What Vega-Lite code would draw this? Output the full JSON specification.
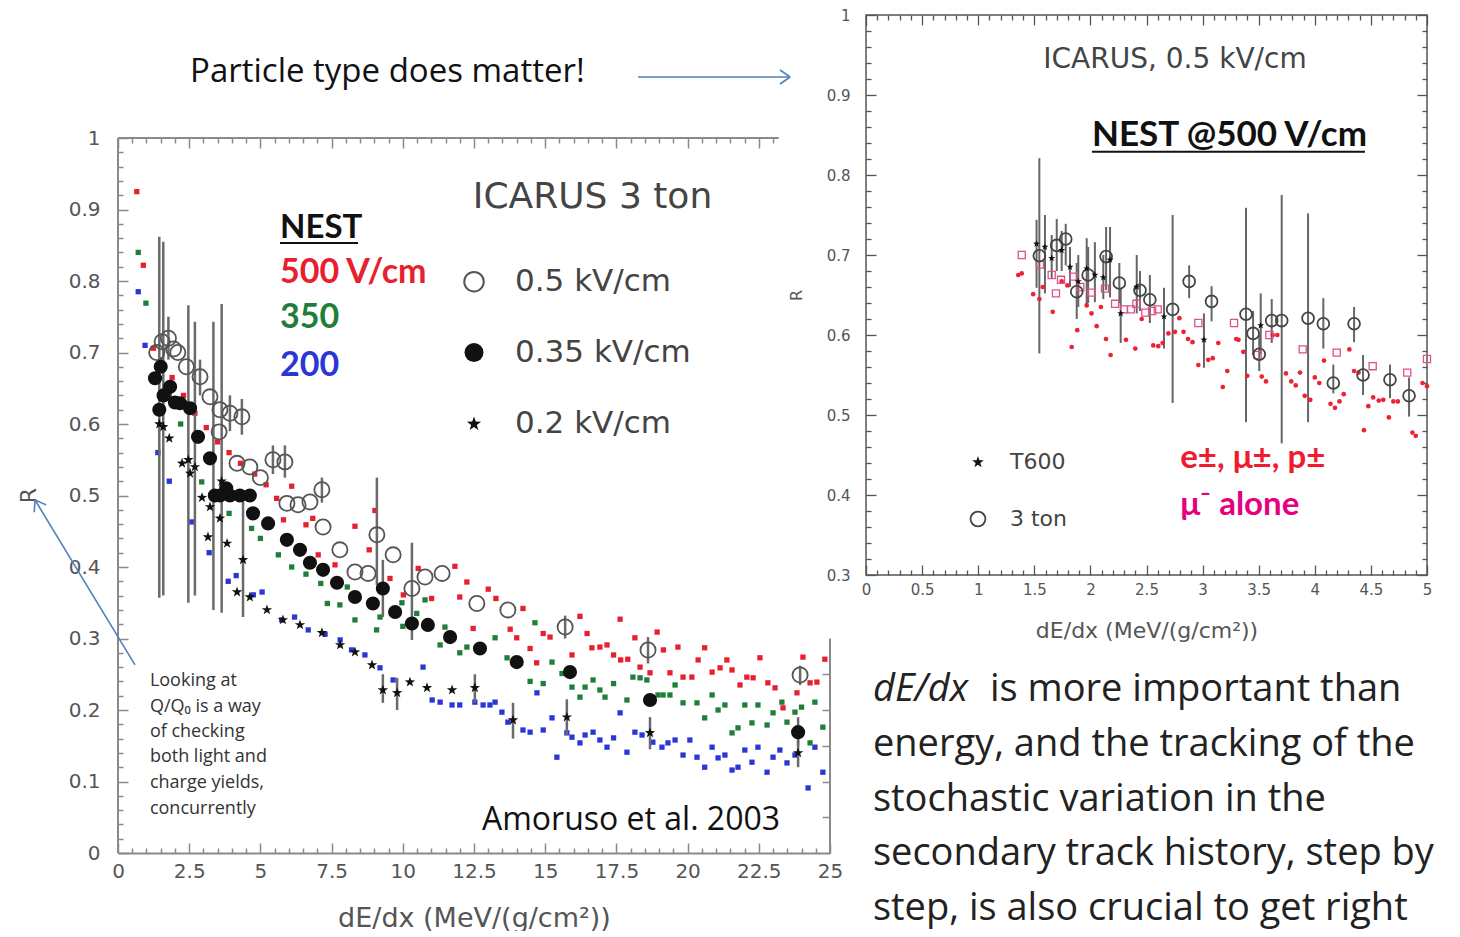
{
 "$schema": "https://vega.github.io/schema/vega-lite/v6.json",
 "background": "white",
 "padding": {"left": 17, "top": 7, "right": 0, "bottom": 0},
 "config": {"view": {"stroke": null}, "axis": {"grid": false}},
 "datasets": {
  "nestL": [
   {"s":"500","x":0.66,"y":0.925},{"s":"500","x":0.89,"y":0.822},{"s":"500","x":1.24,"y":0.706},{"s":"500","x":1.5,"y":0.69},{"s":"500","x":1.9,"y":0.665},{"s":"500","x":2.3,"y":0.64},{"s":"500","x":2.7,"y":0.615},{"s":"500","x":3.1,"y":0.595},{"s":"500","x":3.5,"y":0.575},{"s":"500","x":3.9,"y":0.56},{"s":"500","x":4.3,"y":0.545},{"s":"500","x":4.8,"y":0.53},{"s":"500","x":5.2,"y":0.515},{"s":"500","x":5.57,"y":0.496},{"s":"500","x":5.81,"y":0.466},{"s":"500","x":6.1,"y":0.513},{"s":"500","x":6.6,"y":0.459},{"s":"500","x":6.84,"y":0.468},{"s":"500","x":7.03,"y":0.417},{"s":"500","x":7.62,"y":0.403},{"s":"500","x":8.32,"y":0.457},{"s":"500","x":8.82,"y":0.424},{"s":"500","x":9.02,"y":0.479},{"s":"500","x":9.55,"y":0.384},{"s":"500","x":10.02,"y":0.361},{"s":"500","x":10.54,"y":0.398},{"s":"500","x":11.01,"y":0.356},{"s":"500","x":11.83,"y":0.401},{"s":"500","x":12.0,"y":0.358},{"s":"500","x":12.25,"y":0.379},{"s":"500","x":12.47,"y":0.314},{"s":"500","x":13.0,"y":0.369},{"s":"500","x":13.27,"y":0.356},{"s":"500","x":13.77,"y":0.313},{"s":"500","x":14.0,"y":0.301},{"s":"500","x":14.22,"y":0.342},{"s":"500","x":14.47,"y":0.286},{"s":"500","x":14.7,"y":0.266},{"s":"500","x":14.93,"y":0.307},{"s":"500","x":15.17,"y":0.302},{"s":"500","x":15.94,"y":0.277},{"s":"500","x":16.22,"y":0.331},{"s":"500","x":16.47,"y":0.307},{"s":"500","x":16.64,"y":0.287},{"s":"500","x":16.92,"y":0.288},{"s":"500","x":17.17,"y":0.291},{"s":"500","x":17.4,"y":0.277},{"s":"500","x":17.63,"y":0.327},{"s":"500","x":17.65,"y":0.27},{"s":"500","x":17.9,"y":0.271},{"s":"500","x":18.15,"y":0.301},{"s":"500","x":18.33,"y":0.26},{"s":"500","x":18.68,"y":0.252},{"s":"500","x":18.93,"y":0.309},{"s":"500","x":19.15,"y":0.284},{"s":"500","x":19.38,"y":0.252},{"s":"500","x":19.66,"y":0.288},{"s":"500","x":19.84,"y":0.246},{"s":"500","x":20.15,"y":0.246},{"s":"500","x":20.37,"y":0.27},{"s":"500","x":20.6,"y":0.287},{"s":"500","x":20.86,"y":0.253},{"s":"500","x":21.14,"y":0.259},{"s":"500","x":21.38,"y":0.27},{"s":"500","x":21.56,"y":0.256},{"s":"500","x":21.84,"y":0.235},{"s":"500","x":22.08,"y":0.246},{"s":"500","x":22.3,"y":0.245},{"s":"500","x":22.54,"y":0.273},{"s":"500","x":22.82,"y":0.238},{"s":"500","x":23.07,"y":0.231},{"s":"500","x":23.35,"y":0.203},{"s":"500","x":23.84,"y":0.224},{"s":"500","x":24.05,"y":0.274},{"s":"500","x":24.3,"y":0.238},{"s":"500","x":24.54,"y":0.239},{"s":"500","x":24.82,"y":0.271},
   {"s":"350","x":0.71,"y":0.84},{"s":"350","x":0.98,"y":0.769},{"s":"350","x":1.4,"y":0.68},{"s":"350","x":1.8,"y":0.64},{"s":"350","x":2.2,"y":0.6},{"s":"350","x":2.94,"y":0.519},{"s":"350","x":3.3,"y":0.5},{"s":"350","x":3.9,"y":0.475},{"s":"350","x":4.69,"y":0.454},{"s":"350","x":5.0,"y":0.44},{"s":"350","x":5.63,"y":0.417},{"s":"350","x":6.1,"y":0.4},{"s":"350","x":6.6,"y":0.39},{"s":"350","x":7.12,"y":0.377},{"s":"350","x":7.35,"y":0.349},{"s":"350","x":7.79,"y":0.347},{"s":"350","x":8.05,"y":0.372},{"s":"350","x":8.32,"y":0.326},{"s":"350","x":9.08,"y":0.312},{"s":"350","x":9.2,"y":0.33},{"s":"350","x":9.97,"y":0.35},{"s":"350","x":10.0,"y":0.317},{"s":"350","x":10.49,"y":0.335},{"s":"350","x":10.78,"y":0.354},{"s":"350","x":11.31,"y":0.291},{"s":"350","x":11.48,"y":0.316},{"s":"350","x":12.0,"y":0.28},{"s":"350","x":12.25,"y":0.288},{"s":"350","x":13.24,"y":0.301},{"s":"350","x":13.66,"y":0.273},{"s":"350","x":14.47,"y":0.24},{"s":"350","x":14.64,"y":0.322},{"s":"350","x":14.93,"y":0.237},{"s":"350","x":15.24,"y":0.267},{"s":"350","x":15.59,"y":0.251},{"s":"350","x":15.94,"y":0.232},{"s":"350","x":16.22,"y":0.218},{"s":"350","x":16.4,"y":0.232},{"s":"350","x":16.68,"y":0.242},{"s":"350","x":16.92,"y":0.228},{"s":"350","x":17.1,"y":0.218},{"s":"350","x":17.4,"y":0.237},{"s":"350","x":17.87,"y":0.214},{"s":"350","x":18.08,"y":0.246},{"s":"350","x":18.33,"y":0.245},{"s":"350","x":18.57,"y":0.242},{"s":"350","x":18.96,"y":0.221},{"s":"350","x":19.14,"y":0.221},{"s":"350","x":19.38,"y":0.221},{"s":"350","x":19.56,"y":0.235},{"s":"350","x":19.84,"y":0.21},{"s":"350","x":20.33,"y":0.21},{"s":"350","x":20.6,"y":0.189},{"s":"350","x":20.86,"y":0.221},{"s":"350","x":21.07,"y":0.2},{"s":"350","x":21.31,"y":0.207},{"s":"350","x":21.56,"y":0.168},{"s":"350","x":21.77,"y":0.175},{"s":"350","x":22.01,"y":0.207},{"s":"350","x":22.26,"y":0.182},{"s":"350","x":22.47,"y":0.207},{"s":"350","x":22.79,"y":0.179},{"s":"350","x":23.0,"y":0.196},{"s":"350","x":23.31,"y":0.211},{"s":"350","x":23.49,"y":0.183},{"s":"350","x":23.77,"y":0.197},{"s":"350","x":24.0,"y":0.204},{"s":"350","x":24.3,"y":0.154},{"s":"350","x":24.47,"y":0.211},{"s":"350","x":24.75,"y":0.176},
   {"s":"200","x":0.71,"y":0.785},{"s":"200","x":0.95,"y":0.71},{"s":"200","x":1.4,"y":0.56},{"s":"200","x":1.8,"y":0.52},{"s":"200","x":2.59,"y":0.463},{"s":"200","x":3.2,"y":0.42},{"s":"200","x":3.87,"y":0.38},{"s":"200","x":4.15,"y":0.388},{"s":"200","x":4.75,"y":0.361},{"s":"200","x":5.06,"y":0.365},{"s":"200","x":5.75,"y":0.326},{"s":"200","x":6.2,"y":0.33},{"s":"200","x":6.68,"y":0.312},{"s":"200","x":7.27,"y":0.306},{"s":"200","x":7.8,"y":0.298},{"s":"200","x":8.2,"y":0.284},{"s":"200","x":8.67,"y":0.277},{"s":"200","x":9.2,"y":0.259},{"s":"200","x":9.66,"y":0.242},{"s":"200","x":10.71,"y":0.26},{"s":"200","x":11.03,"y":0.214},{"s":"200","x":11.31,"y":0.211},{"s":"200","x":11.73,"y":0.207},{"s":"200","x":12.0,"y":0.207},{"s":"200","x":12.53,"y":0.211},{"s":"200","x":12.82,"y":0.207},{"s":"200","x":13.06,"y":0.207},{"s":"200","x":13.24,"y":0.211},{"s":"200","x":13.48,"y":0.197},{"s":"200","x":13.69,"y":0.183},{"s":"200","x":14.22,"y":0.172},{"s":"200","x":14.47,"y":0.169},{"s":"200","x":14.71,"y":0.224},{"s":"200","x":14.93,"y":0.172},{"s":"200","x":15.24,"y":0.189},{"s":"200","x":15.41,"y":0.134},{"s":"200","x":15.76,"y":0.168},{"s":"200","x":15.94,"y":0.162},{"s":"200","x":16.22,"y":0.154},{"s":"200","x":16.4,"y":0.165},{"s":"200","x":16.68,"y":0.169},{"s":"200","x":16.92,"y":0.158},{"s":"200","x":17.17,"y":0.148},{"s":"200","x":17.4,"y":0.161},{"s":"200","x":17.63,"y":0.196},{"s":"200","x":17.87,"y":0.141},{"s":"200","x":18.15,"y":0.169},{"s":"200","x":18.4,"y":0.165},{"s":"200","x":18.78,"y":0.155},{"s":"200","x":19.1,"y":0.148},{"s":"200","x":19.31,"y":0.154},{"s":"200","x":19.56,"y":0.158},{"s":"200","x":19.84,"y":0.137},{"s":"200","x":20.08,"y":0.158},{"s":"200","x":20.33,"y":0.134},{"s":"200","x":20.6,"y":0.12},{"s":"200","x":20.86,"y":0.148},{"s":"200","x":21.07,"y":0.133},{"s":"200","x":21.31,"y":0.137},{"s":"200","x":21.56,"y":0.116},{"s":"200","x":21.77,"y":0.12},{"s":"200","x":22.01,"y":0.144},{"s":"200","x":22.26,"y":0.127},{"s":"200","x":22.47,"y":0.148},{"s":"200","x":22.79,"y":0.113},{"s":"200","x":23.0,"y":0.134},{"s":"200","x":23.24,"y":0.144},{"s":"200","x":23.49,"y":0.126},{"s":"200","x":23.77,"y":0.137},{"s":"200","x":24.23,"y":0.091},{"s":"200","x":24.47,"y":0.148},{"s":"200","x":24.75,"y":0.113}
  ],
  "icL": [
   {"s":"o5","x":1.36,"y":0.7},{"s":"o5","x":1.55,"y":0.715},{"s":"o5","x":1.77,"y":0.72,"lo":0.69,"hi":0.75},{"s":"o5","x":1.95,"y":0.705},{"s":"o5","x":2.1,"y":0.7},{"s":"o5","x":2.4,"y":0.68},{"s":"o5","x":2.88,"y":0.666,"lo":0.64,"hi":0.69},{"s":"o5","x":3.23,"y":0.638},{"s":"o5","x":3.58,"y":0.62},{"s":"o5","x":3.93,"y":0.615,"lo":0.59,"hi":0.64},{"s":"o5","x":4.35,"y":0.61,"lo":0.585,"hi":0.635},{"s":"o5","x":3.55,"y":0.589},{"s":"o5","x":4.18,"y":0.545},{"s":"o5","x":4.63,"y":0.54},{"s":"o5","x":5.0,"y":0.525},{"s":"o5","x":5.44,"y":0.55,"lo":0.53,"hi":0.57},{"s":"o5","x":5.86,"y":0.547,"lo":0.525,"hi":0.57},{"s":"o5","x":5.93,"y":0.489},{"s":"o5","x":6.32,"y":0.487},{"s":"o5","x":6.74,"y":0.491},{"s":"o5","x":7.16,"y":0.508,"lo":0.49,"hi":0.525},{"s":"o5","x":7.2,"y":0.456},{"s":"o5","x":7.79,"y":0.424},{"s":"o5","x":8.32,"y":0.393},{"s":"o5","x":8.78,"y":0.391},{"s":"o5","x":9.09,"y":0.445,"lo":0.375,"hi":0.525},{"s":"o5","x":9.66,"y":0.417},{"s":"o5","x":10.32,"y":0.37,"lo":0.298,"hi":0.434},{"s":"o5","x":10.78,"y":0.386},{"s":"o5","x":11.38,"y":0.391},{"s":"o5","x":12.6,"y":0.349},{"s":"o5","x":13.69,"y":0.34},{"s":"o5","x":15.7,"y":0.316,"lo":0.3,"hi":0.332},{"s":"o5","x":18.61,"y":0.284,"lo":0.265,"hi":0.302},{"s":"o5","x":23.95,"y":0.249,"lo":0.235,"hi":0.262},
   {"s":"f35","x":1.3,"y":0.664},{"s":"f35","x":1.45,"y":0.62},{"s":"f35","x":1.5,"y":0.68},{"s":"f35","x":1.6,"y":0.64},{"s":"f35","x":1.83,"y":0.652},{"s":"f35","x":2.0,"y":0.63},{"s":"f35","x":2.18,"y":0.629},{"s":"f35","x":2.53,"y":0.622},{"s":"f35","x":2.81,"y":0.582},{"s":"f35","x":3.23,"y":0.552},{"s":"f35","x":3.4,"y":0.5},{"s":"f35","x":3.58,"y":0.5},{"s":"f35","x":3.8,"y":0.51},{"s":"f35","x":3.93,"y":0.5},{"s":"f35","x":4.28,"y":0.5},{"s":"f35","x":4.63,"y":0.5},{"s":"f35","x":4.74,"y":0.475},{"s":"f35","x":5.27,"y":0.461},{"s":"f35","x":5.93,"y":0.438},{"s":"f35","x":6.39,"y":0.424},{"s":"f35","x":6.74,"y":0.406},{"s":"f35","x":7.2,"y":0.396},{"s":"f35","x":7.69,"y":0.378},{"s":"f35","x":8.32,"y":0.358},{"s":"f35","x":8.95,"y":0.349},{"s":"f35","x":9.3,"y":0.37,"lo":0.33,"hi":0.41},{"s":"f35","x":9.73,"y":0.337},{"s":"f35","x":10.32,"y":0.321},{"s":"f35","x":10.88,"y":0.319},{"s":"f35","x":11.66,"y":0.302},{"s":"f35","x":12.71,"y":0.286},{"s":"f35","x":14.0,"y":0.267},{"s":"f35","x":15.87,"y":0.253},{"s":"f35","x":18.68,"y":0.214},{"s":"f35","x":23.88,"y":0.169,"lo":0.15,"hi":0.19},
   {"s":"s2","x":1.45,"y":0.6,"lo":0.357,"hi":0.862},{"s":"s2","x":1.59,"y":0.596,"lo":0.36,"hi":0.855},{"s":"s2","x":1.8,"y":0.58},{"s":"s2","x":2.25,"y":0.545},{"s":"s2","x":2.47,"y":0.55,"lo":0.35,"hi":0.766},{"s":"s2","x":2.53,"y":0.531},{"s":"s2","x":2.7,"y":0.54,"lo":0.36,"hi":0.743},{"s":"s2","x":2.95,"y":0.497},{"s":"s2","x":3.16,"y":0.442},{"s":"s2","x":3.23,"y":0.484},{"s":"s2","x":3.35,"y":0.5,"lo":0.34,"hi":0.743},{"s":"s2","x":3.58,"y":0.468},{"s":"s2","x":3.64,"y":0.52,"lo":0.336,"hi":0.768},{"s":"s2","x":3.83,"y":0.433},{"s":"s2","x":4.18,"y":0.365},{"s":"s2","x":4.39,"y":0.41,"lo":0.33,"hi":0.5},{"s":"s2","x":4.63,"y":0.358},{"s":"s2","x":5.23,"y":0.34},{"s":"s2","x":5.79,"y":0.326},{"s":"s2","x":6.39,"y":0.319},{"s":"s2","x":7.16,"y":0.308},{"s":"s2","x":7.8,"y":0.291},{"s":"s2","x":8.32,"y":0.281},{"s":"s2","x":8.92,"y":0.263},{"s":"s2","x":9.3,"y":0.228,"lo":0.21,"hi":0.25},{"s":"s2","x":9.8,"y":0.224,"lo":0.2,"hi":0.245},{"s":"s2","x":10.25,"y":0.239},{"s":"s2","x":10.85,"y":0.231},{"s":"s2","x":11.73,"y":0.228},{"s":"s2","x":12.53,"y":0.231,"lo":0.21,"hi":0.25},{"s":"s2","x":13.87,"y":0.186,"lo":0.16,"hi":0.21},{"s":"s2","x":15.76,"y":0.19,"lo":0.165,"hi":0.215},{"s":"s2","x":18.68,"y":0.168,"lo":0.145,"hi":0.19},{"s":"s2","x":23.88,"y":0.14,"lo":0.12,"hi":0.16}
  ],
  "legL": [{"s":"o5","x":12.5,"y":0.799},{"s":"f35","x":12.5,"y":0.7},{"s":"s2","x":12.5,"y":0.6}],
  "segL": [
   {"k":"frame","x":0,"y":0,"x2":0,"y2":1},{"k":"frame","x":0,"y":1,"x2":23.2,"y2":1},{"k":"frame","x":25,"y":0,"x2":25,"y2":0.3},
   {"k":"arrow","x":18.26,"y":1.0853,"x2":23.6,"y2":1.0853},{"k":"arrow","x":23.6,"y":1.0853,"x2":23.245,"y2":1.0951},{"k":"arrow","x":23.6,"y":1.0853,"x2":23.245,"y2":1.0755},
   {"k":"arrow","x":0.597,"y":0.263,"x2":-2.914,"y2":0.4937},{"k":"arrow","x":-2.914,"y":0.4937,"x2":-2.521,"y2":0.4869},{"k":"arrow","x":-2.914,"y":0.4937,"x2":-2.942,"y2":0.4766},
   {"k":"ul","x":5.69,"y":0.853,"x2":8.43,"y2":0.853}
  ],
  "txtL": [
   {"k":"title","t":"Particle type does matter!","x":2.53,"y":1.0923},
   {"k":"nest","t":"NEST","x":5.69,"y":0.874},
   {"k":"nestc","s":"500","t":"500 V/cm","x":5.69,"y":0.811},
   {"k":"nestc","s":"350","t":"350","x":5.69,"y":0.748},
   {"k":"nestc","s":"200","t":"200","x":5.69,"y":0.681},
   {"k":"icarus","t":"ICARUS 3 ton","x":12.46,"y":0.9175},
   {"k":"leg","t":"0.5 kV/cm","x":13.94,"y":0.799},
   {"k":"leg","t":"0.35 kV/cm","x":13.94,"y":0.7},
   {"k":"leg","t":"0.2 kV/cm","x":13.94,"y":0.6},
   {"k":"amo","t":"Amoruso et al. 2003","x":12.78,"y":0.046},
   {"k":"note","t":"Looking at","x":1.12,"y":0.2336},
   {"k":"note","t":"Q/Q₀ is a way","x":1.12,"y":0.1979},
   {"k":"note","t":"of checking","x":1.12,"y":0.1622},
   {"k":"note","t":"both light and","x":1.12,"y":0.1266},
   {"k":"note","t":"charge yields,","x":1.12,"y":0.0909},
   {"k":"note","t":"concurrently","x":1.12,"y":0.0552}
  ],
  "nestR": [
   {"s":"e","x":1.357,"y":0.675},{"s":"e","x":1.388,"y":0.677},{"s":"e","x":1.49,"y":0.651},{"s":"e","x":1.545,"y":0.645},{"s":"e","x":1.575,"y":0.66},{"s":"e","x":1.664,"y":0.629},{"s":"e","x":1.744,"y":0.667},{"s":"e","x":1.795,"y":0.662},{"s":"e","x":1.833,"y":0.585},{"s":"e","x":1.883,"y":0.606},{"s":"e","x":1.967,"y":0.637},{"s":"e","x":2.01,"y":0.627},{"s":"e","x":2.056,"y":0.611},{"s":"e","x":2.094,"y":0.635},{"s":"e","x":2.139,"y":0.595},{"s":"e","x":2.18,"y":0.575},{"s":"e","x":2.317,"y":0.594},{"s":"e","x":2.4,"y":0.583},{"s":"e","x":2.457,"y":0.62},{"s":"e","x":2.56,"y":0.587},{"s":"e","x":2.605,"y":0.586},{"s":"e","x":2.644,"y":0.59},{"s":"e","x":2.695,"y":0.602},{"s":"e","x":2.754,"y":0.604},{"s":"e","x":2.793,"y":0.621},{"s":"e","x":2.83,"y":0.604},{"s":"e","x":2.87,"y":0.595},{"s":"e","x":2.91,"y":0.591},{"s":"e","x":2.962,"y":0.5625},{"s":"e","x":3.05,"y":0.569},{"s":"e","x":3.09,"y":0.571},{"s":"e","x":3.14,"y":0.59},{"s":"e","x":3.18,"y":0.535},{"s":"e","x":3.22,"y":0.555},{"s":"e","x":3.3,"y":0.595},{"s":"e","x":3.32,"y":0.594},{"s":"e","x":3.363,"y":0.579},{"s":"e","x":3.398,"y":0.549},{"s":"e","x":3.527,"y":0.548},{"s":"e","x":3.565,"y":0.542},{"s":"e","x":3.625,"y":0.6},{"s":"e","x":3.666,"y":0.6},{"s":"e","x":3.743,"y":0.552},{"s":"e","x":3.79,"y":0.542},{"s":"e","x":3.83,"y":0.537},{"s":"e","x":3.868,"y":0.553},{"s":"e","x":3.91,"y":0.524},{"s":"e","x":3.96,"y":0.519},{"s":"e","x":4.0,"y":0.547},{"s":"e","x":4.04,"y":0.54},{"s":"e","x":4.082,"y":0.568},{"s":"e","x":4.14,"y":0.514},{"s":"e","x":4.18,"y":0.509},{"s":"e","x":4.22,"y":0.517},{"s":"e","x":4.258,"y":0.526},{"s":"e","x":4.308,"y":0.582},{"s":"e","x":4.35,"y":0.555},{"s":"e","x":4.39,"y":0.553},{"s":"e","x":4.438,"y":0.481},{"s":"e","x":4.477,"y":0.511},{"s":"e","x":4.52,"y":0.522},{"s":"e","x":4.57,"y":0.518},{"s":"e","x":4.61,"y":0.519},{"s":"e","x":4.66,"y":0.497},{"s":"e","x":4.7,"y":0.517},{"s":"e","x":4.74,"y":0.517},{"s":"e","x":4.87,"y":0.478},{"s":"e","x":4.9,"y":0.474},{"s":"e","x":4.96,"y":0.54},{"s":"e","x":5.0,"y":0.536},
   {"s":"mu","x":1.388,"y":0.7},{"s":"mu","x":1.55,"y":0.688},{"s":"mu","x":1.655,"y":0.675},{"s":"mu","x":1.693,"y":0.652},{"s":"mu","x":1.738,"y":0.669},{"s":"mu","x":1.85,"y":0.673},{"s":"mu","x":1.91,"y":0.66},{"s":"mu","x":2.01,"y":0.653},{"s":"mu","x":2.13,"y":0.658},{"s":"mu","x":2.22,"y":0.639},{"s":"mu","x":2.3,"y":0.632},{"s":"mu","x":2.36,"y":0.632},{"s":"mu","x":2.41,"y":0.639},{"s":"mu","x":2.49,"y":0.628},{"s":"mu","x":2.55,"y":0.63},{"s":"mu","x":2.6,"y":0.632},{"s":"mu","x":2.962,"y":0.615},{"s":"mu","x":3.28,"y":0.615},{"s":"mu","x":3.49,"y":0.575},{"s":"mu","x":3.595,"y":0.6},{"s":"mu","x":3.892,"y":0.582},{"s":"mu","x":4.195,"y":0.578},{"s":"mu","x":4.516,"y":0.561},{"s":"mu","x":4.824,"y":0.553},{"s":"mu","x":5.0,"y":0.57}
  ],
  "icR": [
   {"s":"o3","x":1.545,"y":0.699,"lo":0.577,"hi":0.821},{"s":"o3","x":1.7,"y":0.712,"lo":0.68,"hi":0.745},{"s":"o3","x":1.78,"y":0.72,"lo":0.687,"hi":0.739},{"s":"o3","x":1.878,"y":0.654,"lo":0.62,"hi":0.69},{"s":"o3","x":1.98,"y":0.675,"lo":0.64,"hi":0.71},{"s":"o3","x":2.14,"y":0.698,"lo":0.656,"hi":0.735},{"s":"o3","x":2.258,"y":0.665,"lo":0.64,"hi":0.69},{"s":"o3","x":2.442,"y":0.656,"lo":0.63,"hi":0.68},{"s":"o3","x":2.53,"y":0.644,"lo":0.615,"hi":0.675},{"s":"o3","x":2.733,"y":0.632,"lo":0.515,"hi":0.75},{"s":"o3","x":2.88,"y":0.667,"lo":0.646,"hi":0.687},{"s":"o3","x":3.08,"y":0.642,"lo":0.617,"hi":0.661},{"s":"o3","x":3.387,"y":0.626,"lo":0.491,"hi":0.759},{"s":"o3","x":3.45,"y":0.602,"lo":0.575,"hi":0.63},{"s":"o3","x":3.505,"y":0.576,"lo":0.555,"hi":0.6},{"s":"o3","x":3.616,"y":0.618,"lo":0.59,"hi":0.645},{"s":"o3","x":3.705,"y":0.618,"lo":0.4645,"hi":0.775},{"s":"o3","x":3.94,"y":0.621,"lo":0.491,"hi":0.752},{"s":"o3","x":4.076,"y":0.614,"lo":0.583,"hi":0.646},{"s":"o3","x":4.165,"y":0.54,"lo":0.527,"hi":0.563},{"s":"o3","x":4.35,"y":0.614,"lo":0.591,"hi":0.635},{"s":"o3","x":4.43,"y":0.55,"lo":0.525,"hi":0.575},{"s":"o3","x":4.67,"y":0.544,"lo":0.521,"hi":0.563},{"s":"o3","x":4.84,"y":0.524,"lo":0.498,"hi":0.547},
   {"s":"t6","x":1.52,"y":0.714,"lo":0.659,"hi":0.744},{"s":"t6","x":1.595,"y":0.71,"lo":0.652,"hi":0.75},{"s":"t6","x":1.655,"y":0.696,"lo":0.67,"hi":0.725},{"s":"t6","x":1.744,"y":0.706,"lo":0.68,"hi":0.73},{"s":"t6","x":1.818,"y":0.685,"lo":0.66,"hi":0.71},{"s":"t6","x":1.892,"y":0.667,"lo":0.635,"hi":0.7},{"s":"t6","x":1.967,"y":0.683,"lo":0.635,"hi":0.721},{"s":"t6","x":2.04,"y":0.675,"lo":0.641,"hi":0.716},{"s":"t6","x":2.115,"y":0.672,"lo":0.645,"hi":0.7},{"s":"t6","x":2.175,"y":0.694,"lo":0.647,"hi":0.735},{"s":"t6","x":2.27,"y":0.627,"lo":0.59,"hi":0.659},{"s":"t6","x":2.413,"y":0.66,"lo":0.627,"hi":0.7},{"s":"t6","x":2.656,"y":0.623,"lo":0.583,"hi":0.659},{"s":"t6","x":3.012,"y":0.594,"lo":0.559,"hi":0.627},{"s":"t6","x":3.518,"y":0.612,"lo":0.576,"hi":0.652}
  ],
  "legR": [{"s":"t6","x":0.998,"y":0.441},{"s":"o3","x":0.998,"y":0.37}],
  "segR": [{"k":"ul","x":2.014,"y":0.829,"x2":4.447,"y2":0.829}],
  "txtR": [
   {"k":"ic","t":"ICARUS, 0.5 kV/cm","x":2.754,"y":0.944},
   {"k":"nest","t":"NEST @500 V/cm","x":2.014,"y":0.85},
   {"k":"leg","t":"T600","x":1.283,"y":0.441},
   {"k":"leg","t":"3 ton","x":1.283,"y":0.37},
   {"k":"e","t":"e±, μ±, p±","x":2.8,"y":0.446},
   {"k":"mu","t":"μ⁻ alone","x":2.8,"y":0.3875},
   {"k":"pi","t":"dE/dx","x":0.062,"y":0.1425},
   {"k":"p","t":"is more important than","x":1.105,"y":0.1425},
   {"k":"p","t":"energy, and the tracking of the","x":0.062,"y":0.07375},
   {"k":"p","t":"stochastic variation in the","x":0.062,"y":0.005625},
   {"k":"p","t":"secondary track history, step by","x":0.062,"y":-0.0625},
   {"k":"p","t":"step, is also crucial to get right","x":0.062,"y":-0.130625}
  ]
 },
 "hconcat": [
  {
   "width": 712, "height": 838,
   "view": {"stroke": null},
   "resolve": {"axis": {"x": "independent", "y": "independent"}},
   "layer": [
    {"data": {"name": "nestL"},
     "mark": {"type": "point", "shape": "square", "filled": true, "size": 28, "opacity": 1},
     "encoding": {
      "x": {"field": "x", "type": "quantitative", "scale": {"domain": [0, 25], "nice": false, "zero": false},
       "axis": {"orient": "bottom", "values": [0,0.5,1,1.5,2,2.5,3,3.5,4,4.5,5,5.5,6,6.5,7,7.5,8,8.5,9,9.5,10,10.5,11,11.5,12,12.5,13,13.5,14,14.5,15,15.5,16,16.5,17,17.5,18,18.5,19,19.5,20,20.5,21,21.5,22,22.5,23,23.5,24,24.5,25],
        "format": ".3~g", "labelExpr": "datum.value % 2.5 === 0 ? datum.label : ''", "labelOverlap": false, "labelFlush": false,
        "tickSize": {"condition": {"test": "datum.value % 2.5 === 0", "value": -10}, "value": -5},
        "tickColor": "#8a8a8a", "tickWidth": 1.5, "domainColor": "#8a8a8a", "domainWidth": 2,
        "labelFont": "DejaVu Sans", "labelFontSize": 20, "labelColor": "#555", "labelPadding": 18,
        "title": "dE/dx (MeV/(g/cm²))", "titleFont": "DejaVu Sans", "titleFontSize": 27, "titleFontWeight": "normal", "titleColor": "#555", "titlePadding": 19}},
      "y": {"field": "y", "type": "quantitative", "scale": {"domain": [0, 1.172028], "nice": false, "zero": false},
       "axis": {"orient": "left", "values": [0,0.02,0.04,0.06,0.08,0.1,0.12,0.14,0.16,0.18,0.2,0.22,0.24,0.26,0.28,0.3,0.32,0.34,0.36,0.38,0.4,0.42,0.44,0.46,0.48,0.5,0.52,0.54,0.56,0.58,0.6,0.62,0.64,0.66,0.68,0.7,0.72,0.74,0.76,0.78,0.8,0.82,0.84,0.86,0.88,0.9,0.92,0.94,0.96,0.98,1],
        "format": ".3~g", "labelExpr": "abs(round(datum.value*50)) % 5 === 0 ? datum.label : ''", "labelOverlap": false, "labelFlush": false,
        "tickSize": {"condition": {"test": "abs(round(datum.value*50)) % 5 === 0", "value": -10}, "value": -5},
        "tickColor": "#8a8a8a", "tickWidth": 1.5, "domain": false,
        "labelFont": "DejaVu Sans", "labelFontSize": 20, "labelColor": "#555", "labelPadding": 28,
        "title": "R", "titleFont": "DejaVu Sans", "titleFontSize": 22, "titleFontWeight": "normal", "titleColor": "#555", "titleX": -78, "titleY": 480}},
      "color": {"field": "s", "type": "nominal", "scale": {"domain": ["500", "350", "200"], "range": ["#e8202e", "#1f7f3a", "#2a36d6"]}, "legend": null}
     }},
    {"data": {"name": "icL"},
     "transform": [{"filter": "isValid(datum.lo)"}],
     "mark": {"type": "rule", "color": "#6a6a6a", "strokeWidth": 2.5},
     "encoding": {
      "x": {"field": "x", "type": "quantitative", "scale": {"domain": [0, 25], "nice": false, "zero": false},
       "axis": {"orient": "top", "offset": -123, "values": [0,0.5,1,1.5,2,2.5,3,3.5,4,4.5,5,5.5,6,6.5,7,7.5,8,8.5,9,9.5,10,10.5,11,11.5,12,12.5,13,13.5,14,14.5,15,15.5,16,16.5,17,17.5,18,18.5,19,19.5,20,20.5,21,21.5,22,22.5,23],
        "labels": false, "domain": false, "title": null,
        "tickSize": {"condition": {"test": "datum.value % 2.5 === 0", "value": -10}, "value": -5}, "tickColor": "#8a8a8a", "tickWidth": 1.5}},
      "y": {"field": "lo", "type": "quantitative", "scale": {"domain": [0, 1.172028], "nice": false, "zero": false},
       "axis": {"orient": "right", "values": [0.05, 0.1, 0.15, 0.2, 0.25], "labels": false, "domain": false, "title": null, "tickSize": -8, "tickColor": "#8a8a8a", "tickWidth": 1.5}},
      "y2": {"field": "hi"}
     }},
    {"data": {"name": "icL"},
     "transform": [{"filter": "datum.s === 'o5'"}],
     "mark": {"type": "point", "shape": "circle", "filled": false, "size": 230, "stroke": "#555", "strokeWidth": 1.8, "opacity": 1},
     "encoding": {
      "x": {"field": "x", "type": "quantitative", "scale": {"domain": [0, 25], "nice": false, "zero": false}, "axis": null},
      "y": {"field": "y", "type": "quantitative", "scale": {"domain": [0, 1.172028], "nice": false, "zero": false}, "axis": null}
     }},
    {"data": {"name": "icL"},
     "transform": [{"filter": "datum.s === 'f35'"}],
     "mark": {"type": "point", "shape": "circle", "filled": true, "size": 200, "color": "#111", "opacity": 1},
     "encoding": {
      "x": {"field": "x", "type": "quantitative", "scale": {"domain": [0, 25], "nice": false, "zero": false}, "axis": null},
      "y": {"field": "y", "type": "quantitative", "scale": {"domain": [0, 1.172028], "nice": false, "zero": false}, "axis": null}
     }},
    {"data": {"name": "icL"},
     "transform": [{"filter": "datum.s === 's2'"}],
     "mark": {"type": "point", "shape": "M0,-1L0.235,-0.324L0.951,-0.309L0.38,0.124L0.588,0.809L0,0.4L-0.588,0.809L-0.38,0.124L-0.951,-0.309L-0.235,-0.324Z", "filled": true, "size": 120, "color": "#111", "opacity": 1},
     "encoding": {
      "x": {"field": "x", "type": "quantitative", "scale": {"domain": [0, 25], "nice": false, "zero": false}, "axis": null},
      "y": {"field": "y", "type": "quantitative", "scale": {"domain": [0, 1.172028], "nice": false, "zero": false}, "axis": null}
     }},
    {"data": {"name": "legL"},
     "transform": [{"filter": "datum.s === 'o5'"}],
     "mark": {"type": "point", "shape": "circle", "filled": false, "size": 380, "stroke": "#555", "strokeWidth": 2, "opacity": 1},
     "encoding": {
      "x": {"field": "x", "type": "quantitative", "scale": {"domain": [0, 25], "nice": false, "zero": false}, "axis": null},
      "y": {"field": "y", "type": "quantitative", "scale": {"domain": [0, 1.172028], "nice": false, "zero": false}, "axis": null}
     }},
    {"data": {"name": "legL"},
     "transform": [{"filter": "datum.s === 'f35'"}],
     "mark": {"type": "point", "shape": "circle", "filled": true, "size": 360, "color": "#111", "opacity": 1},
     "encoding": {
      "x": {"field": "x", "type": "quantitative", "scale": {"domain": [0, 25], "nice": false, "zero": false}, "axis": null},
      "y": {"field": "y", "type": "quantitative", "scale": {"domain": [0, 1.172028], "nice": false, "zero": false}, "axis": null}
     }},
    {"data": {"name": "legL"},
     "transform": [{"filter": "datum.s === 's2'"}],
     "mark": {"type": "point", "shape": "M0,-1L0.235,-0.324L0.951,-0.309L0.38,0.124L0.588,0.809L0,0.4L-0.588,0.809L-0.38,0.124L-0.951,-0.309L-0.235,-0.324Z", "filled": true, "size": 220, "color": "#111", "opacity": 1},
     "encoding": {
      "x": {"field": "x", "type": "quantitative", "scale": {"domain": [0, 25], "nice": false, "zero": false}, "axis": null},
      "y": {"field": "y", "type": "quantitative", "scale": {"domain": [0, 1.172028], "nice": false, "zero": false}, "axis": null}
     }},
    {"data": {"name": "segL"},
     "transform": [{"filter": "datum.k === 'frame'"}],
     "mark": {"type": "rule", "color": "#8a8a8a", "strokeWidth": 2},
     "encoding": {
      "x": {"field": "x", "type": "quantitative", "scale": {"domain": [0, 25], "nice": false, "zero": false}, "axis": null},
      "x2": {"field": "x2"},
      "y": {"field": "y", "type": "quantitative", "scale": {"domain": [0, 1.172028], "nice": false, "zero": false}, "axis": null},
      "y2": {"field": "y2"}
     }},
    {"data": {"name": "segL"},
     "transform": [{"filter": "datum.k === 'arrow'"}],
     "mark": {"type": "rule", "color": "#4f81bd", "strokeWidth": 1.6},
     "encoding": {
      "x": {"field": "x", "type": "quantitative", "scale": {"domain": [0, 25], "nice": false, "zero": false}, "axis": null},
      "x2": {"field": "x2"},
      "y": {"field": "y", "type": "quantitative", "scale": {"domain": [0, 1.172028], "nice": false, "zero": false}, "axis": null},
      "y2": {"field": "y2"}
     }},
    {"data": {"name": "segL"},
     "transform": [{"filter": "datum.k === 'ul'"}],
     "mark": {"type": "rule", "color": "#111", "strokeWidth": 2},
     "encoding": {
      "x": {"field": "x", "type": "quantitative", "scale": {"domain": [0, 25], "nice": false, "zero": false}, "axis": null},
      "x2": {"field": "x2"},
      "y": {"field": "y", "type": "quantitative", "scale": {"domain": [0, 1.172028], "nice": false, "zero": false}, "axis": null},
      "y2": {"field": "y2"}
     }},
    {"data": {"name": "txtL"},
     "transform": [{"filter": "datum.k === 'title'"}],
     "mark": {"type": "text", "align": "left", "baseline": "middle", "font": "Open Sans", "fontSize": 33, "color": "#111"},
     "encoding": {
      "x": {"field": "x", "type": "quantitative", "scale": {"domain": [0, 25], "nice": false, "zero": false}, "axis": null},
      "y": {"field": "y", "type": "quantitative", "scale": {"domain": [0, 1.172028], "nice": false, "zero": false}, "axis": null},
      "text": {"field": "t"}
     }},
    {"data": {"name": "txtL"},
     "transform": [{"filter": "datum.k === 'nest'"}],
     "mark": {"type": "text", "align": "left", "baseline": "middle", "font": "Lato", "fontWeight": "bold", "fontSize": 33, "color": "#111"},
     "encoding": {
      "x": {"field": "x", "type": "quantitative", "scale": {"domain": [0, 25], "nice": false, "zero": false}, "axis": null},
      "y": {"field": "y", "type": "quantitative", "scale": {"domain": [0, 1.172028], "nice": false, "zero": false}, "axis": null},
      "text": {"field": "t"}
     }},
    {"data": {"name": "txtL"},
     "transform": [{"filter": "datum.k === 'nestc'"}],
     "mark": {"type": "text", "align": "left", "baseline": "middle", "font": "Lato", "fontWeight": "bold", "fontSize": 34},
     "encoding": {
      "x": {"field": "x", "type": "quantitative", "scale": {"domain": [0, 25], "nice": false, "zero": false}, "axis": null},
      "y": {"field": "y", "type": "quantitative", "scale": {"domain": [0, 1.172028], "nice": false, "zero": false}, "axis": null},
      "text": {"field": "t"},
      "color": {"field": "s", "type": "nominal", "scale": {"domain": ["500", "350", "200"], "range": ["#e8202e", "#1f7f3a", "#2a36d6"]}, "legend": null}
     }},
    {"data": {"name": "txtL"},
     "transform": [{"filter": "datum.k === 'icarus'"}],
     "mark": {"type": "text", "align": "left", "baseline": "middle", "font": "DejaVu Sans", "fontSize": 36, "color": "#444"},
     "encoding": {
      "x": {"field": "x", "type": "quantitative", "scale": {"domain": [0, 25], "nice": false, "zero": false}, "axis": null},
      "y": {"field": "y", "type": "quantitative", "scale": {"domain": [0, 1.172028], "nice": false, "zero": false}, "axis": null},
      "text": {"field": "t"}
     }},
    {"data": {"name": "txtL"},
     "transform": [{"filter": "datum.k === 'leg'"}],
     "mark": {"type": "text", "align": "left", "baseline": "middle", "font": "DejaVu Sans", "fontSize": 31, "color": "#444"},
     "encoding": {
      "x": {"field": "x", "type": "quantitative", "scale": {"domain": [0, 25], "nice": false, "zero": false}, "axis": null},
      "y": {"field": "y", "type": "quantitative", "scale": {"domain": [0, 1.172028], "nice": false, "zero": false}, "axis": null},
      "text": {"field": "t"}
     }},
    {"data": {"name": "txtL"},
     "transform": [{"filter": "datum.k === 'amo'"}],
     "mark": {"type": "text", "align": "left", "baseline": "middle", "font": "Open Sans", "fontSize": 32, "color": "#111"},
     "encoding": {
      "x": {"field": "x", "type": "quantitative", "scale": {"domain": [0, 25], "nice": false, "zero": false}, "axis": null},
      "y": {"field": "y", "type": "quantitative", "scale": {"domain": [0, 1.172028], "nice": false, "zero": false}, "axis": null},
      "text": {"field": "t"}
     }},
    {"data": {"name": "txtL"},
     "transform": [{"filter": "datum.k === 'note'"}],
     "mark": {"type": "text", "align": "left", "baseline": "alphabetic", "font": "Open Sans", "fontSize": 18, "color": "#333"},
     "encoding": {
      "x": {"field": "x", "type": "quantitative", "scale": {"domain": [0, 25], "nice": false, "zero": false}, "axis": null},
      "y": {"field": "y", "type": "quantitative", "scale": {"domain": [0, 1.172028], "nice": false, "zero": false}, "axis": null},
      "text": {"field": "t"}
     }}
   ]
  },
  {
   "width": 561, "height": 560,
   "view": {"stroke": "#555", "strokeWidth": 1.5},
   "resolve": {"axis": {"x": "independent", "y": "independent"}},
   "layer": [
    {"data": {"name": "icR"},
     "mark": {"type": "rule", "color": "#666", "strokeWidth": 2},
     "encoding": {
      "x": {"field": "x", "type": "quantitative", "scale": {"domain": [0, 5], "nice": false, "zero": false},
       "axis": {"orient": "top", "values": [0,0.1,0.2,0.3,0.4,0.5,0.6,0.7,0.8,0.9,1,1.1,1.2,1.3,1.4,1.5,1.6,1.7,1.8,1.9,2,2.1,2.2,2.3,2.4,2.5,2.6,2.7,2.8,2.9,3,3.1,3.2,3.3,3.4,3.5,3.6,3.7,3.8,3.9,4,4.1,4.2,4.3,4.4,4.5,4.6,4.7,4.8,4.9,5],
        "labels": false, "domain": false, "title": null,
        "tickSize": {"condition": {"test": "abs(round(datum.value*10)) % 5 === 0", "value": -10}, "value": -5}, "tickColor": "#555", "tickWidth": 1.3}},
      "y": {"field": "lo", "type": "quantitative", "scale": {"domain": [0.3, 1], "nice": false, "zero": false},
       "axis": {"orient": "right", "values": [0.3,0.32,0.34,0.36,0.38,0.4,0.42,0.44,0.46,0.48,0.5,0.52,0.54,0.56,0.58,0.6,0.62,0.64,0.66,0.68,0.7,0.72,0.74,0.76,0.78,0.8,0.82,0.84,0.86,0.88,0.9,0.92,0.94,0.96,0.98,1],
        "labels": false, "domain": false, "title": null,
        "tickSize": {"condition": {"test": "abs(round(datum.value*50)) % 5 === 0", "value": -10}, "value": -5}, "tickColor": "#555", "tickWidth": 1.3}},
      "y2": {"field": "hi"}
     }},
    {"data": {"name": "nestR"},
     "transform": [{"filter": "datum.s === 'e'"}],
     "mark": {"type": "point", "shape": "circle", "filled": true, "size": 22, "color": "#ee2233", "opacity": 1},
     "encoding": {
      "x": {"field": "x", "type": "quantitative", "scale": {"domain": [0, 5], "nice": false, "zero": false},
       "axis": {"orient": "bottom", "values": [0,0.1,0.2,0.3,0.4,0.5,0.6,0.7,0.8,0.9,1,1.1,1.2,1.3,1.4,1.5,1.6,1.7,1.8,1.9,2,2.1,2.2,2.3,2.4,2.5,2.6,2.7,2.8,2.9,3,3.1,3.2,3.3,3.4,3.5,3.6,3.7,3.8,3.9,4,4.1,4.2,4.3,4.4,4.5,4.6,4.7,4.8,4.9,5],
        "format": ".3~g", "labelExpr": "abs(round(datum.value*10)) % 5 === 0 ? datum.label : ''", "labelOverlap": false, "labelFlush": false,
        "tickSize": {"condition": {"test": "abs(round(datum.value*10)) % 5 === 0", "value": -10}, "value": -5},
        "tickColor": "#555", "tickWidth": 1.3, "domain": false,
        "labelFont": "DejaVu Sans", "labelFontSize": 15, "labelColor": "#555", "labelPadding": 17,
        "title": "dE/dx (MeV/(g/cm²))", "titleFont": "DejaVu Sans", "titleFontSize": 22, "titleFontWeight": "normal", "titleColor": "#555", "titlePadding": 18}},
      "y": {"field": "y", "type": "quantitative", "scale": {"domain": [0.3, 1], "nice": false, "zero": false},
       "axis": {"orient": "left", "values": [0.3,0.32,0.34,0.36,0.38,0.4,0.42,0.44,0.46,0.48,0.5,0.52,0.54,0.56,0.58,0.6,0.62,0.64,0.66,0.68,0.7,0.72,0.74,0.76,0.78,0.8,0.82,0.84,0.86,0.88,0.9,0.92,0.94,0.96,0.98,1],
        "format": ".3~g", "labelExpr": "abs(round(datum.value*50)) % 5 === 0 ? datum.label : ''", "labelOverlap": false, "labelFlush": false,
        "tickSize": {"condition": {"test": "abs(round(datum.value*50)) % 5 === 0", "value": -10}, "value": -5},
        "tickColor": "#555", "tickWidth": 1.3, "domain": false,
        "labelFont": "DejaVu Sans", "labelFontSize": 15, "labelColor": "#555", "labelPadding": 26,
        "title": "R", "titleFont": "DejaVu Sans", "titleFontSize": 16, "titleFontWeight": "normal", "titleColor": "#555", "titlePadding": 22}}
     }},
    {"data": {"name": "nestR"},
     "transform": [{"filter": "datum.s === 'mu'"}],
     "mark": {"type": "point", "shape": "square", "filled": false, "size": 50, "stroke": "#e0508a", "strokeWidth": 1.3, "opacity": 1},
     "encoding": {
      "x": {"field": "x", "type": "quantitative", "scale": {"domain": [0, 5], "nice": false, "zero": false}, "axis": null},
      "y": {"field": "y", "type": "quantitative", "scale": {"domain": [0.3, 1], "nice": false, "zero": false}, "axis": null}
     }},
    {"data": {"name": "icR"},
     "transform": [{"filter": "datum.s === 'o3'"}],
     "mark": {"type": "point", "shape": "circle", "filled": false, "size": 140, "stroke": "#444", "strokeWidth": 1.8, "opacity": 1},
     "encoding": {
      "x": {"field": "x", "type": "quantitative", "scale": {"domain": [0, 5], "nice": false, "zero": false}, "axis": null},
      "y": {"field": "y", "type": "quantitative", "scale": {"domain": [0.3, 1], "nice": false, "zero": false}, "axis": null}
     }},
    {"data": {"name": "icR"},
     "transform": [{"filter": "datum.s === 't6'"}],
     "mark": {"type": "point", "shape": "M0,-1L0.235,-0.324L0.951,-0.309L0.38,0.124L0.588,0.809L0,0.4L-0.588,0.809L-0.38,0.124L-0.951,-0.309L-0.235,-0.324Z", "filled": true, "size": 55, "color": "#111", "opacity": 1},
     "encoding": {
      "x": {"field": "x", "type": "quantitative", "scale": {"domain": [0, 5], "nice": false, "zero": false}, "axis": null},
      "y": {"field": "y", "type": "quantitative", "scale": {"domain": [0.3, 1], "nice": false, "zero": false}, "axis": null}
     }},
    {"data": {"name": "legR"},
     "transform": [{"filter": "datum.s === 't6'"}],
     "mark": {"type": "point", "shape": "M0,-1L0.235,-0.324L0.951,-0.309L0.38,0.124L0.588,0.809L0,0.4L-0.588,0.809L-0.38,0.124L-0.951,-0.309L-0.235,-0.324Z", "filled": true, "size": 150, "color": "#111", "opacity": 1},
     "encoding": {
      "x": {"field": "x", "type": "quantitative", "scale": {"domain": [0, 5], "nice": false, "zero": false}, "axis": null},
      "y": {"field": "y", "type": "quantitative", "scale": {"domain": [0.3, 1], "nice": false, "zero": false}, "axis": null}
     }},
    {"data": {"name": "legR"},
     "transform": [{"filter": "datum.s === 'o3'"}],
     "mark": {"type": "point", "shape": "circle", "filled": false, "size": 220, "stroke": "#444", "strokeWidth": 1.8, "opacity": 1},
     "encoding": {
      "x": {"field": "x", "type": "quantitative", "scale": {"domain": [0, 5], "nice": false, "zero": false}, "axis": null},
      "y": {"field": "y", "type": "quantitative", "scale": {"domain": [0.3, 1], "nice": false, "zero": false}, "axis": null}
     }},
    {"data": {"name": "segR"},
     "mark": {"type": "rule", "color": "#111", "strokeWidth": 2},
     "encoding": {
      "x": {"field": "x", "type": "quantitative", "scale": {"domain": [0, 5], "nice": false, "zero": false}, "axis": null},
      "x2": {"field": "x2"},
      "y": {"field": "y", "type": "quantitative", "scale": {"domain": [0.3, 1], "nice": false, "zero": false}, "axis": null},
      "y2": {"field": "y2"}
     }},
    {"data": {"name": "txtR"},
     "transform": [{"filter": "datum.k === 'ic'"}],
     "mark": {"type": "text", "align": "center", "baseline": "middle", "font": "DejaVu Sans", "fontSize": 28, "color": "#444"},
     "encoding": {
      "x": {"field": "x", "type": "quantitative", "scale": {"domain": [0, 5], "nice": false, "zero": false}, "axis": null},
      "y": {"field": "y", "type": "quantitative", "scale": {"domain": [0.3, 1], "nice": false, "zero": false}, "axis": null},
      "text": {"field": "t"}
     }},
    {"data": {"name": "txtR"},
     "transform": [{"filter": "datum.k === 'nest'"}],
     "mark": {"type": "text", "align": "left", "baseline": "middle", "font": "Lato", "fontWeight": "bold", "fontSize": 35, "color": "#111"},
     "encoding": {
      "x": {"field": "x", "type": "quantitative", "scale": {"domain": [0, 5], "nice": false, "zero": false}, "axis": null},
      "y": {"field": "y", "type": "quantitative", "scale": {"domain": [0.3, 1], "nice": false, "zero": false}, "axis": null},
      "text": {"field": "t"}
     }},
    {"data": {"name": "txtR"},
     "transform": [{"filter": "datum.k === 'leg'"}],
     "mark": {"type": "text", "align": "left", "baseline": "middle", "font": "DejaVu Sans", "fontSize": 22, "color": "#444"},
     "encoding": {
      "x": {"field": "x", "type": "quantitative", "scale": {"domain": [0, 5], "nice": false, "zero": false}, "axis": null},
      "y": {"field": "y", "type": "quantitative", "scale": {"domain": [0.3, 1], "nice": false, "zero": false}, "axis": null},
      "text": {"field": "t"}
     }},
    {"data": {"name": "txtR"},
     "transform": [{"filter": "datum.k === 'e'"}],
     "mark": {"type": "text", "align": "left", "baseline": "middle", "font": "Lato", "fontWeight": "bold", "fontSize": 33, "color": "#ee1c2e"},
     "encoding": {
      "x": {"field": "x", "type": "quantitative", "scale": {"domain": [0, 5], "nice": false, "zero": false}, "axis": null},
      "y": {"field": "y", "type": "quantitative", "scale": {"domain": [0.3, 1], "nice": false, "zero": false}, "axis": null},
      "text": {"field": "t"}
     }},
    {"data": {"name": "txtR"},
     "transform": [{"filter": "datum.k === 'mu'"}],
     "mark": {"type": "text", "align": "left", "baseline": "middle", "font": "Lato", "fontWeight": "bold", "fontSize": 33, "color": "#e6007e"},
     "encoding": {
      "x": {"field": "x", "type": "quantitative", "scale": {"domain": [0, 5], "nice": false, "zero": false}, "axis": null},
      "y": {"field": "y", "type": "quantitative", "scale": {"domain": [0.3, 1], "nice": false, "zero": false}, "axis": null},
      "text": {"field": "t"}
     }},
    {"data": {"name": "txtR"},
     "transform": [{"filter": "datum.k === 'pi'"}],
     "mark": {"type": "text", "align": "left", "baseline": "alphabetic", "font": "Open Sans", "fontStyle": "italic", "fontSize": 38, "color": "#222"},
     "encoding": {
      "x": {"field": "x", "type": "quantitative", "scale": {"domain": [0, 5], "nice": false, "zero": false}, "axis": null},
      "y": {"field": "y", "type": "quantitative", "scale": {"domain": [0.3, 1], "nice": false, "zero": false}, "axis": null},
      "text": {"field": "t"}
     }},
    {"data": {"name": "txtR"},
     "transform": [{"filter": "datum.k === 'p'"}],
     "mark": {"type": "text", "align": "left", "baseline": "alphabetic", "font": "Open Sans", "fontSize": 38, "color": "#222"},
     "encoding": {
      "x": {"field": "x", "type": "quantitative", "scale": {"domain": [0, 5], "nice": false, "zero": false}, "axis": null},
      "y": {"field": "y", "type": "quantitative", "scale": {"domain": [0.3, 1], "nice": false, "zero": false}, "axis": null},
      "text": {"field": "t"}
     }}
   ]
  }
 ],
 "spacing": 36,
 "bounds": "flush"
}
